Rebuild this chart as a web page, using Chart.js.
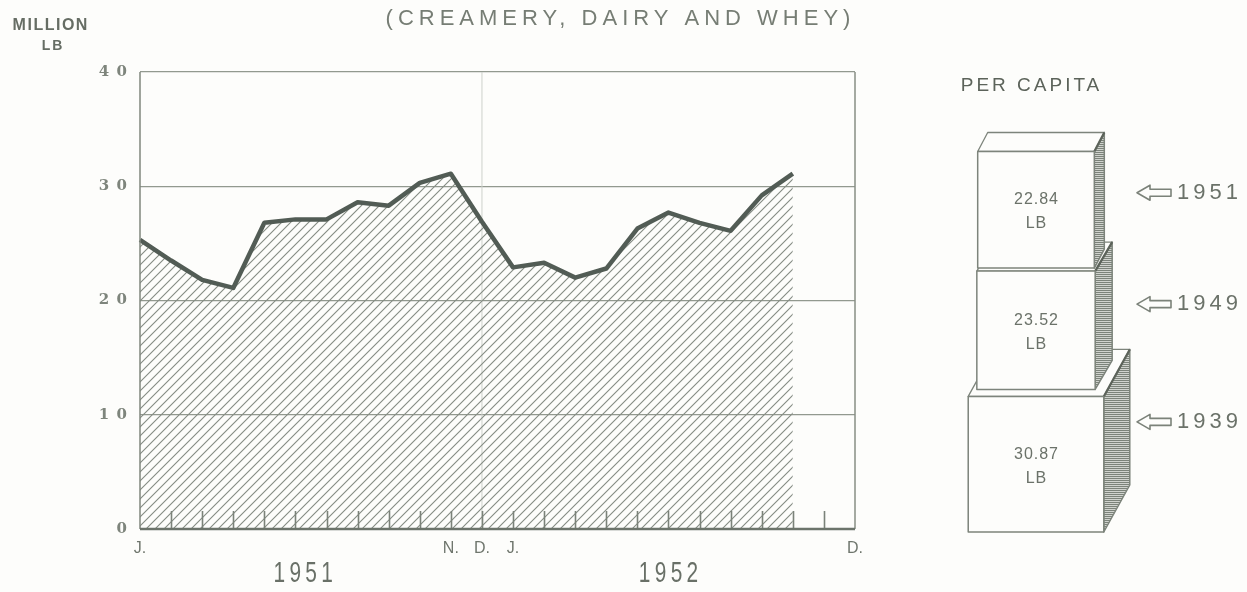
<!DOCTYPE html>
<html>
<head>
<meta charset="utf-8">
<script src="https://cdn.jsdelivr.net/npm/chart.js@4"></script>
<style>
html,body{margin:0;padding:0;background:#fdfdfb;}
#wrap{position:relative;width:1247px;height:592px;overflow:hidden;}
canvas{position:absolute;left:0;top:0;}
</style>
</head>
<body>
<div id="wrap">
<canvas id="main" width="1247" height="592"></canvas>
<canvas id="side" width="1247" height="592"></canvas>
</div>
<script>
// ---- data ----
const months = ['J.','F.','M.','A.','M.','J.','J.','A.','S.','O.','N.','D.','J.','F.','M.','A.','M.','J.','J.','A.','S.','O.','N.','D.'];
const shownMonthLabels = [0,10,11,12,23];
const years = ['1951','1952'];
const production = [25.3,23.5,21.8,21.1,26.8,27.1,27.1,28.6,28.3,30.3,31.1,26.9,22.9,23.3,22.0,22.8,26.3,27.7,26.8,26.1,29.2,31.1,null,null];
const yTicks = [0,10,20,30,40];
const chartTitle = '(CREAMERY, DAIRY AND WHEY)';
const unitLines = ['MILLION','LB'];
const perCapitaTitle = 'PER CAPITA';
const perCapitaYears = ['1951','1949','1939'];
const perCapitaValues = [22.84,23.52,30.87];
const perCapitaUnit = 'LB';

// ---- helpers ----
function txt(ctx, s, x, y, o) {
  ctx.save();
  ctx.font = o.font;
  ctx.fillStyle = o.color || '#6f766d';
  ctx.textAlign = o.align || 'center';
  ctx.textBaseline = 'middle';
  const ls = o.ls || 0;
  if ('letterSpacing' in ctx) ctx.letterSpacing = ls + 'px';
  const shift = (o.align || 'center') === 'center' ? ls / 2 : 0;
  ctx.translate(x + shift * (o.sx || 1), y);
  if (o.sx) ctx.scale(o.sx, 1);
  ctx.fillText(s, 0, 0);
  ctx.restore();
}

const mainCanvas = document.getElementById('main');
const mctx = mainCanvas.getContext('2d');

// diagonal hatch pattern
const pc = document.createElement('canvas');
pc.width = 9; pc.height = 9;
const pg = pc.getContext('2d');
pg.strokeStyle = '#858c83';
pg.lineWidth = 1.1;
pg.beginPath();
pg.moveTo(-1, 10); pg.lineTo(10, -1);
pg.moveTo(-2, 2); pg.lineTo(2, -2);
pg.moveTo(7, 11); pg.lineTo(11, 7);
pg.stroke();
const hatch = mctx.createPattern(pc, 'repeat');

const decor = {
  id: 'decor',
  beforeDatasetsDraw(chart) {
    const {ctx, chartArea: {top, bottom}, scales: {x}} = chart;
    const xd = x.getPixelForValue(11);
    ctx.save();
    ctx.strokeStyle = '#cdd1cb';
    ctx.lineWidth = 1;
    ctx.beginPath(); ctx.moveTo(xd, top); ctx.lineTo(xd, bottom); ctx.stroke();
    ctx.restore();
  },
  afterDatasetsDraw(chart) {
    const {ctx, chartArea: {left, right, top, bottom}, scales: {x}} = chart;
    ctx.save();
    // month ticks
    ctx.strokeStyle = '#7b8279';
    ctx.lineWidth = 1.6;
    for (let i = 1; i < months.length - 1; i++) {
      const px = Math.round(x.getPixelForValue(i)) + 0.5;
      ctx.beginPath(); ctx.moveTo(px, bottom); ctx.lineTo(px, bottom - 18); ctx.stroke();
    }
    // frame
    ctx.strokeStyle = '#878e85';
    ctx.lineWidth = 1.5;
    ctx.beginPath(); ctx.moveTo(right, top); ctx.lineTo(right, bottom); ctx.stroke();
    ctx.strokeStyle = '#7f867d';
    ctx.beginPath(); ctx.moveTo(left, top); ctx.lineTo(left, bottom); ctx.stroke();
    ctx.strokeStyle = '#6c746b';
    ctx.lineWidth = 2.5;
    ctx.beginPath(); ctx.moveTo(left, bottom); ctx.lineTo(right, bottom); ctx.stroke();
    ctx.restore();
  },
  afterDraw(chart) {
    const {ctx, scales: {x}} = chart;
    txt(ctx, chartTitle, 618, 19, {font: '22px "Liberation Sans"', color: '#767d74', ls: 5});
    txt(ctx, unitLines[0], 50, 26, {font: 'bold 16px "Liberation Sans"', color: '#666d64', ls: 1.5});
    txt(ctx, unitLines[1], 52, 46, {font: 'bold 14px "Liberation Sans"', color: '#666d64', ls: 2});
    const yearPos = [5.25, 17];
    years.forEach((yr, i) => {
      txt(ctx, yr, x.getPixelForValue(yearPos[i]), 574, {font: '29px "Liberation Sans"', color: '#697067', ls: 6, sx: 0.72});
    });
  }
};

new Chart(mainCanvas, {
  type: 'line',
  data: {
    labels: months,
    datasets: [{
      data: production,
      borderColor: '#525c55',
      borderWidth: 4.5,
      borderJoinStyle: 'round',
      pointRadius: 0,
      tension: 0,
      fill: 'origin',
      backgroundColor: hatch,
      spanGaps: false
    }]
  },
  options: {
    responsive: false,
    animation: false,
    layout: {padding: {left: 0, right: 392, top: 72, bottom: 0}},
    plugins: {legend: {display: false}, tooltip: {enabled: false}},
    scales: {
      x: {
        type: 'category',
        offset: false,
        grid: {display: false, drawTicks: false},
        border: {display: false},
        ticks: {
          autoSkip: false, maxRotation: 0, padding: 10,
          color: '#6f766d',
          font: {family: '"Liberation Sans"', size: 16},
          callback: (v, i) => shownMonthLabels.includes(i) ? months[i] : ''
        },
        afterFit: s => { s.height = 63; }
      },
      y: {
        min: 0, max: 40,
        afterBuildTicks: s => { s.ticks = yTicks.map(v => ({value: v})); },
        grid: {color: '#92998f', lineWidth: 1.3, drawTicks: false},
        border: {display: false},
        ticks: {
          padding: 13,
          color: '#7e857c',
          font: {family: '"DejaVu Serif"', size: 15, weight: 'bold'},
          callback: v => String(v).split('').join('\u2002')
        },
        afterFit: s => { s.width = 140; }
      }
    }
  },
  plugins: [decor]
});

// ---- per capita cubes ----
const sideCanvas = document.getElementById('side');
const sctx = sideCanvas.getContext('2d');
const hc = document.createElement('canvas');
hc.width = 4; hc.height = 2;
const hg = hc.getContext('2d');
hg.fillStyle = '#d0d3ce'; hg.fillRect(0, 0, 4, 2);
hg.fillStyle = '#7c837a'; hg.fillRect(0, 0, 4, 1);
const sideHatch = sctx.createPattern(hc, 'repeat');

const cubes = {
  id: 'cubes',
  afterDraw(chart) {
    const {ctx, scales: {x, y}} = chart;
    const cx = 1036, baseY = 532, K = 24.4;
    const gaps = [3, 7];
    const depth = [[10, -19], [17, -29], [26, -47]];
    const n = perCapitaValues.length;
    const boxes = [];
    let b = baseY;
    for (let i = n - 1; i >= 0; i--) {
      const s = K * Math.sqrt(perCapitaValues[i]);
      boxes[i] = {L: cx - s / 2, R: cx + s / 2, T: b - s, B: b};
      b = b - s - (i > 0 ? gaps[i - 1] : 0);
    }
    txt(ctx, perCapitaTitle, x.getPixelForValue(1030), y.getPixelForValue(86), {font: '19px "Liberation Sans"', color: '#5c635a', ls: 3});
    ctx.save();
    ctx.lineJoin = 'round';
    for (let i = n - 1; i >= 0; i--) {
      const bx = boxes[i];
      const L = x.getPixelForValue(bx.L), R = x.getPixelForValue(bx.R);
      const T = y.getPixelForValue(bx.T), B = y.getPixelForValue(bx.B);
      const [dx, dy] = depth[i];
      // side face
      ctx.beginPath();
      ctx.moveTo(R, T); ctx.lineTo(R + dx, T + dy); ctx.lineTo(R + dx, B + dy); ctx.lineTo(R, B); ctx.closePath();
      ctx.fillStyle = sideHatch; ctx.fill();
      ctx.strokeStyle = '#7d847b'; ctx.lineWidth = 1.5; ctx.stroke();
      // top face
      ctx.beginPath();
      ctx.moveTo(L, T); ctx.lineTo(L + dx, T + dy); ctx.lineTo(R + dx, T + dy); ctx.lineTo(R, T); ctx.closePath();
      ctx.fillStyle = '#fdfdfb'; ctx.fill();
      ctx.strokeStyle = '#7d847b'; ctx.lineWidth = 1.3; ctx.stroke();
      ctx.beginPath(); ctx.moveTo(R, T); ctx.lineTo(R + dx, T + dy);
      ctx.strokeStyle = '#5c635a'; ctx.lineWidth = 2.2; ctx.stroke();
      // front face
      ctx.fillStyle = '#fdfdfb';
      ctx.fillRect(L, T, R - L, B - T);
      ctx.strokeStyle = '#7d847b'; ctx.lineWidth = 1.5;
      ctx.strokeRect(L, T, R - L, B - T);
      const cy = (T + B) / 2;
      txt(ctx, perCapitaValues[i].toFixed(2), (L + R) / 2, cy - 10, {font: '16px "Liberation Sans"', color: '#6b7269', ls: 1});
      txt(ctx, perCapitaUnit, (L + R) / 2, cy + 14, {font: '16px "Liberation Sans"', color: '#6b7269', ls: 1});
      // arrow + year
      const ly = cy + 0.9 * dy;
      const ax = x.getPixelForValue(1137);
      ctx.beginPath();
      ctx.moveTo(ax, ly);
      ctx.lineTo(ax + 13, ly - 7.5);
      ctx.lineTo(ax + 13, ly - 3.5);
      ctx.lineTo(ax + 34, ly - 3.5);
      ctx.lineTo(ax + 34, ly + 3.5);
      ctx.lineTo(ax + 13, ly + 3.5);
      ctx.lineTo(ax + 13, ly + 7.5);
      ctx.closePath();
      ctx.strokeStyle = '#7b8279'; ctx.lineWidth = 1.6; ctx.stroke();
      txt(ctx, perCapitaYears[i], ax + 40, ly, {font: '22px "Liberation Sans"', color: '#6b7269', ls: 4, align: 'left'});
    }
    ctx.restore();
  }
};

new Chart(sideCanvas, {
  type: 'scatter',
  data: {datasets: [{data: [], pointRadius: 0}]},
  options: {
    responsive: false,
    animation: false,
    layout: {padding: {left: 930, top: 0, right: 0, bottom: 0}},
    plugins: {legend: {display: false}, tooltip: {enabled: false}},
    scales: {
      x: {display: false, min: 930, max: 1247},
      y: {display: false, min: 0, max: 592, reverse: true}
    }
  },
  plugins: [cubes]
});
</script>
</body>
</html>
